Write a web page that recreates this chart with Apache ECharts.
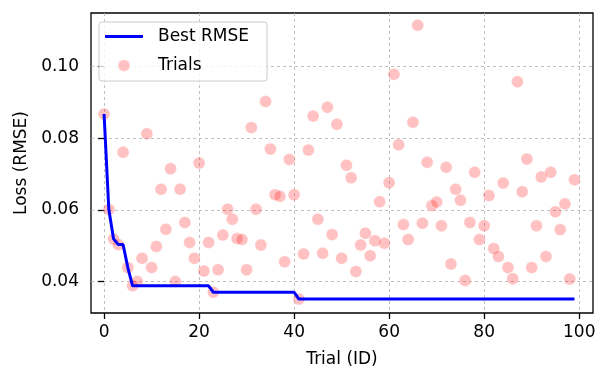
<!DOCTYPE html>
<html>
<head>
<meta charset="utf-8">
<title>Best RMSE</title>
<script src="https://cdn.jsdelivr.net/npm/echarts@6.0.0/dist/echarts.min.js"></script>
<style>
    html, body { margin: 0; padding: 0; background: #fff; }
    #chart { width: 610px; height: 381px; }
</style>
</head>
<body>
<div id="chart"></div>
<script>
// trial ids 0..99
var trialIds = [];
for (var i = 0; i < 100; i++) trialIds.push(i);

// loss of every trial
var trialLoss = [
    0.0868, 0.0601, 0.0519, 0.0503, 0.0761, 0.0439, 0.0388, 0.0400, 0.0465, 0.0813,
    0.0439, 0.0498, 0.0658, 0.0546, 0.0715, 0.0400, 0.0658, 0.0565, 0.0509, 0.0465,
    0.0731, 0.0429, 0.0509, 0.0370, 0.0433, 0.0530, 0.0602, 0.0574, 0.0520, 0.0517,
    0.0433, 0.0830, 0.0602, 0.0502, 0.0903, 0.0770, 0.0642, 0.0638, 0.0455, 0.0741,
    0.0642, 0.0351, 0.0477, 0.0767, 0.0862, 0.0574, 0.0479, 0.0887, 0.0531, 0.0839,
    0.0465, 0.0725, 0.0690, 0.0428, 0.0502, 0.0535, 0.0472, 0.0514, 0.0623, 0.0507,
    0.0676, 0.0979, 0.0782, 0.0559, 0.0517, 0.0845, 0.1116, 0.0563, 0.0733, 0.0612,
    0.0622, 0.0556, 0.0719, 0.0449, 0.0658, 0.0627, 0.0403, 0.0565, 0.0705, 0.0517,
    0.0556, 0.0640, 0.0492, 0.0470, 0.0675, 0.0439, 0.0408, 0.0958, 0.0651, 0.0742,
    0.0439, 0.0556, 0.0692, 0.0470, 0.0705, 0.0595, 0.0545, 0.0617, 0.0407, 0.0684
];

// best rmse so far, only where the line bends
var bestIds  = [0, 1, 2, 3, 4, 5, 6, 22, 23, 40, 41, 99];
var bestRmse = [0.0868, 0.0601, 0.0519, 0.0503, 0.0503, 0.0439, 0.0388, 0.0388, 0.0370, 0.0370, 0.0351, 0.0351];

// tick labels
var xTicks = [0, 20, 40, 60, 80, 100];
var yTicks = [0.04, 0.06, 0.08, 0.10];

var myChart = echarts.init(document.getElementById('chart'), null, { renderer: 'canvas' });

var font = 'DejaVu Sans';
var gridDash = { color: '#b0b0b0', width: 0.8, type: [3, 3] };

var option = {
    backgroundColor: '#fff',
    animation: false,
    textStyle: { fontFamily: font },
    grid: {
        left: 91, right: 17, top: 13, bottom: 68,
        show: true,
        borderColor: '#000',
        borderWidth: 1.3,
        backgroundColor: 'transparent'
    },
    legend: {
        orient: 'vertical',
        left: 99, top: 22,
        padding: [6, 18, 7, 6],
        itemWidth: 38,
        itemHeight: 12,
        itemGap: 12,
        backgroundColor: 'rgba(255,255,255,0.8)',
        borderColor: '#cccccc',
        borderWidth: 1,
        borderRadius: 3,
        textStyle: { fontFamily: font, fontSize: 17, color: '#000', padding: [0, 0, 0, 10] },
        data: [
            // plain line sample, no dot
            { name: 'Best RMSE', icon: 'path://M0,0L38,0L38,3L0,3Z', itemStyle: { color: '#0000ff' } },
            { name: 'Trials', icon: 'circle' }
        ]
    },
    xAxis: {
        type: 'value',
        min: -2.75, max: 102.9,
        name: 'Trial (ID)',
        nameLocation: 'middle',
        nameGap: 38,
        nameTextStyle: { fontFamily: font, fontSize: 17, color: '#000' },
        axisLine: { show: false },
        axisTick: { show: true, customValues: xTicks, length: 6, lineStyle: { color: '#000', width: 1.3 } },
        axisLabel: { customValues: xTicks, margin: 11, fontFamily: font, fontSize: 17, color: '#000' },
        splitLine: { show: true, customValues: xTicks, lineStyle: gridDash }
    },
    yAxis: {
        type: 'value',
        min: 0.0312, max: 0.1150,
        name: 'Loss (RMSE)',
        nameLocation: 'middle',
        nameGap: 61,
        nameTextStyle: { fontFamily: font, fontSize: 17, color: '#000' },
        axisLine: { show: false },
        axisTick: { show: true, customValues: yTicks, length: 6, lineStyle: { color: '#000', width: 1.3 } },
        axisLabel: {
            customValues: yTicks, margin: 12, fontFamily: font, fontSize: 17, color: '#000',
            formatter: function (v) { return v.toFixed(2); }
        },
        splitLine: { show: true, customValues: yTicks, lineStyle: gridDash }
    },
    series: [
        {
            name: 'Best RMSE',
            type: 'line',
            symbol: 'none',
            data: bestIds.map(function (id, k) { return [id, bestRmse[k]]; }),
            lineStyle: { color: '#0000ff', width: 3 },
            itemStyle: { color: '#0000ff' },
            z: 4
        },
        {
            name: 'Trials',
            type: 'scatter',
            symbolSize: 12,
            data: trialIds.map(function (id, k) { return [id, trialLoss[k]]; }),
            itemStyle: {
                color: 'rgba(255,0,0,0.3)',
                borderColor: 'rgba(255,255,255,0.35)',
                borderWidth: 1.2
            },
            z: 3
        }
    ]
};

myChart.setOption(option);
</script>
</body>
</html>
